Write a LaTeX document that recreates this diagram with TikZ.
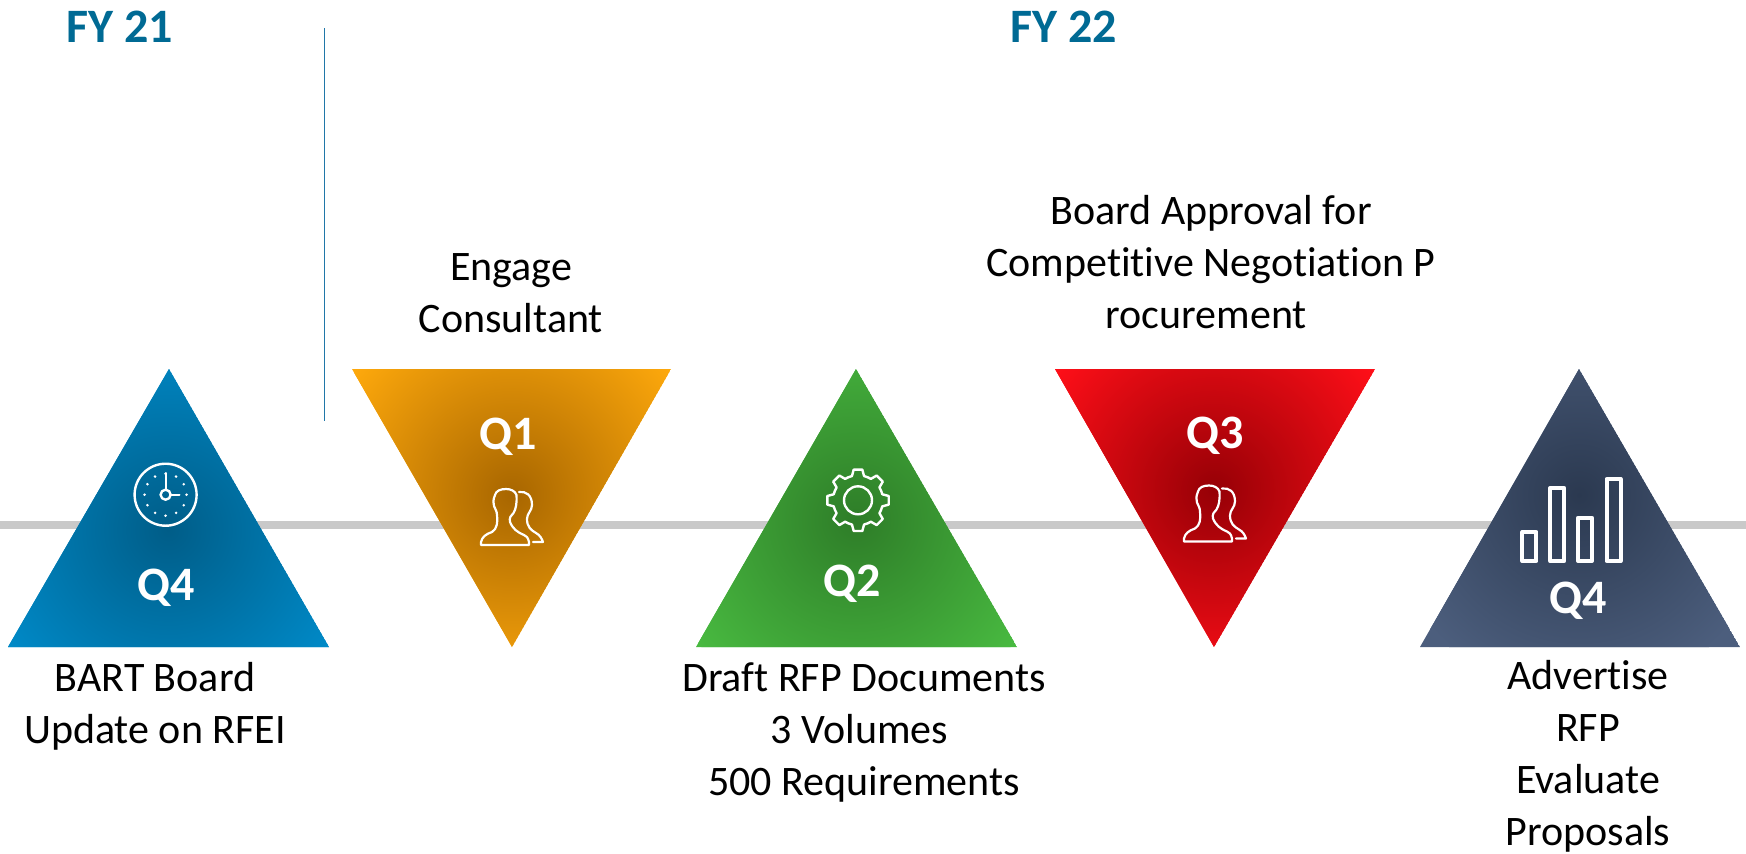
\documentclass[tikz,border=0pt]{standalone}
\usepackage{fontspec}
\setmainfont{Carlito}[Ligatures=NoCommon]
\usepackage{xcolor}
\usetikzlibrary{calc}
\definecolor{fycolor}{HTML}{006A94}
\definecolor{rulecolor}{HTML}{C9C9C9}
\definecolor{sepcolor}{HTML}{2077A8}
\definecolor{bluein}{HTML}{005D88}
\definecolor{blueout}{HTML}{008AC8}
\definecolor{amberin}{HTML}{A86600}
\definecolor{amberout}{HTML}{FDA80C}
\definecolor{greenin}{HTML}{2E7D28}
\definecolor{greenout}{HTML}{48B940}
\definecolor{redin}{HTML}{960006}
\definecolor{redout}{HTML}{FF0F18}
\definecolor{slatein}{HTML}{2B3950}
\definecolor{slateout}{HTML}{4C5E7D}
\tikzstyle{fy}=[text=fycolor,font=\fontsize{24}{29}\selectfont\bfseries,inner sep=0pt]
\tikzstyle{qlab}=[text=white,font=\fontsize{24}{29}\selectfont\bfseries,inner sep=0pt,anchor=base]
\tikzstyle{caption}=[text=black,font=\fontsize{21}{26}\selectfont,align=center,inner sep=0pt]
\tikzstyle{icon}=[draw=white,line width=1.2pt,line join=round,line cap=round]
% #1 #2 #3 corners, #4 centre, #5 inner, #6 outer
\newcommand\quartertri[6]{
  \begin{scope}
    \clip #1 -- #2 -- #3 -- cycle;
    \fill[#6] #1 -- #2 -- #3 -- cycle;
    \shade[inner color=#5,outer color=#6] #4 circle (200);
  \end{scope}
}
\newcommand\peopleicon[2]{
  \begin{scope}[shift={(#1,#2)}]
    \draw[icon,line width=1.1pt] (-25,56) -- (23,56) -- (23,53)
      .. controls (22,48) and (20,47) .. (18,46)
      .. controls (11,43) and (7,40) .. (4,33)
      .. controls (3,29) and (5,26) .. (7.5,24)
      .. controls (10,20) and (11,14) .. (10.5,6)
      .. controls (9,2) and (5,0) .. (0,0)
      .. controls (-6,0) and (-10,2) .. (-11,6)
      .. controls (-13,11) and (-13,14) .. (-12,17)
      .. controls (-11,20) and (-9,22) .. (-9,26)
      .. controls (-8,33) and (-9,40) .. (-14,43)
      .. controls (-20,45) and (-24,48) .. (-25,53) -- cycle;
    \draw[icon,line width=1.1pt] (13,3) .. controls (20,2) and (26,6) .. (26,16)
      .. controls (26,22) and (21,24) .. (21,30)
      .. controls (21,38) and (25,41) .. (30,44)
      .. controls (34,46) and (36,50) .. (37,53) -- (27,53);
  \end{scope}
}
\begin{document}
\begin{tikzpicture}[x=.5pt,y=-.5pt]
  \useasboundingbox (0,0) rectangle (1746,853);
  \coordinate (rulel) at (0,525);
  \coordinate (ruler) at (1746,525);
  \coordinate (sept) at (324.5,28);
  \coordinate (sepb) at (324.5,421);
  \draw[rulecolor,line width=4pt] (rulel) -- (ruler);
  \draw[sepcolor,line width=.6pt] (sept) -- (sepb);

  \quartertri{(169,369)}{(329,647)}{(8,647)}{(168,530)}{bluein}{blueout}
  \quartertri{(352,369)}{(671,369)}{(512,647)}{(512,495)}{amberin}{amberout}
  \quartertri{(856,369)}{(1017,647)}{(696,647)}{(856,520)}{greenin}{greenout}
  \quartertri{(1055,369)}{(1375,369)}{(1214,647)}{(1214,490)}{redin}{redout}
  \quartertri{(1579,369)}{(1740,647)}{(1420,647)}{(1579,495)}{slatein}{slateout}

  % clock
  \coordinate (clock) at (165.6,494.7);
  \draw[icon] (clock) circle (31);
  \draw[icon] (clock) circle (5);
  \draw[icon,line width=1pt] (165.6,489.7) -- (165.6,473);
  \draw[icon,line width=1pt] (170.6,494.7) -- (179.5,494.7);
  \foreach \a in {0,30,...,330}
    \fill[white] ($(clock)+(\a:21)$) circle (1.4);

  \peopleicon{506}{489}
  \peopleicon{1209}{485.5}

  % gear
  \coordinate (gear) at (858,500.3);
  \draw[icon] (gear) circle (14);
  \begin{scope}[shift={(858,500.3)}]
    \draw[icon] (-14:25) \foreach \a in {0,45,...,315} {
      -- (\a-14:25) -- (\a-8:31) -- (\a+8:31) -- (\a+14:25) -- (\a+22.5:25)
    } -- cycle;
  \end{scope}

  % bars
  \foreach \l/\r/\t in {1522.4/1536.4/532,1550.3/1564.3/488,1578/1592/517.7,1606.6/1620.6/479}
    \draw[icon,line width=2pt,line cap=butt] (\l,\t) rectangle (\r,561);

  \node[qlab] (qa) at (166.6,600) {Q4};
  \node[qlab] (qb) at (508.6,449) {Q1};
  \node[qlab] (qc) at (852.5,596) {Q2};
  \node[qlab] (qd) at (1214.7,448.7) {Q3};
  \node[qlab] (qe) at (1578,613) {Q4};

  \node[fy] (fya) at (120,27) {FY 21};
  \node[fy] (fyb) at (1064,27) {FY 22};

  \node[caption] (capa) at (155,706.5) {BART Board\\Update on RFEI};
  \node[caption] (capb) at (511,293) {Engage\\Consultant};
  \node[caption] (capc) at (864,732.5) {Draft RFP Documents\\3 Volumes\kern.23em\\500 Requirements};
  \node[caption] (capd) at (1211,262) {Board Approval for\\Competitive Negotiation P\\rocurement\kern.23em};
  \node[caption] (cape) at (1588,756) {Advertise\\RFP\\Evaluate\\Proposals};
\end{tikzpicture}
\end{document}
